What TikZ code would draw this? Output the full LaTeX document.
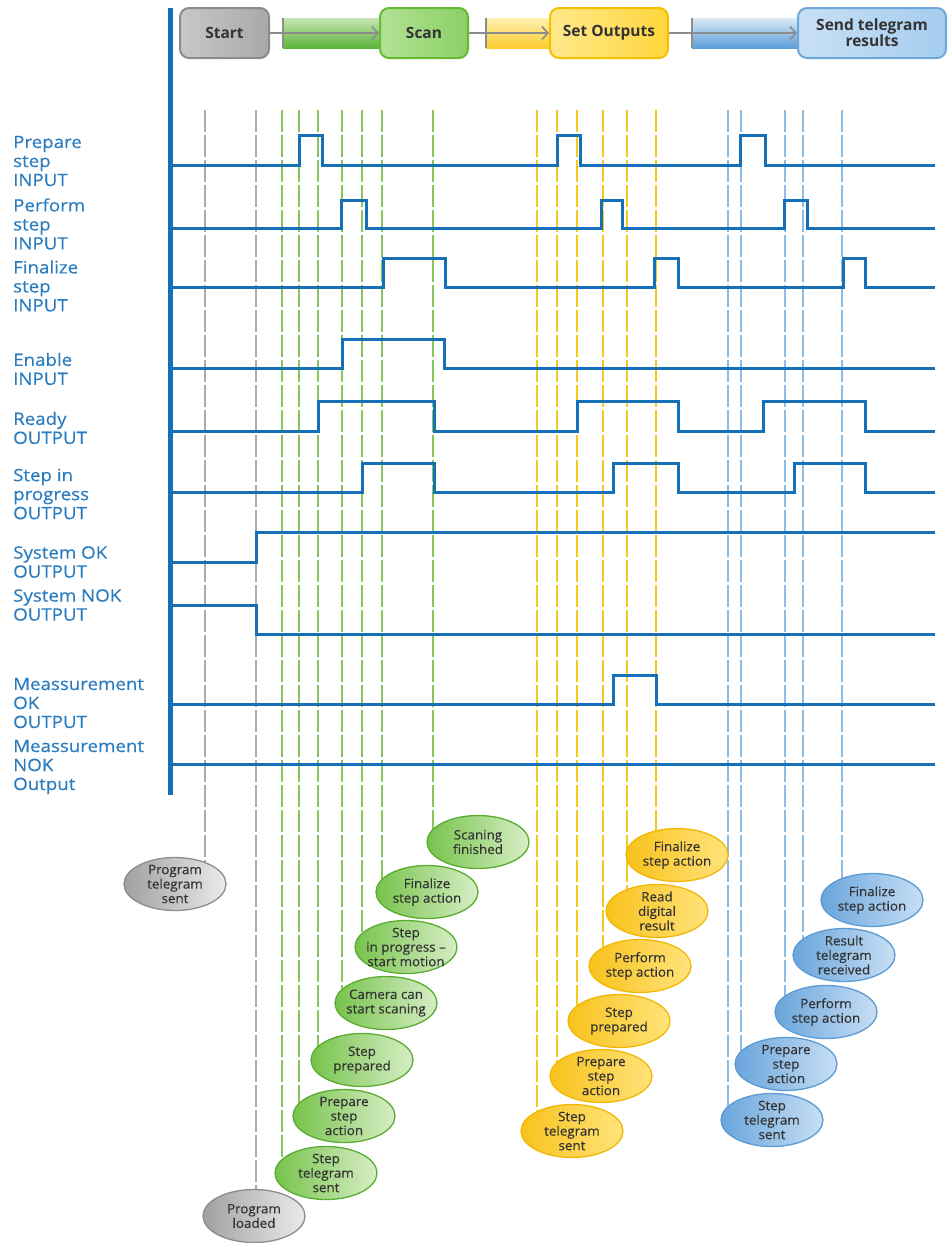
\documentclass[tikz,border=0pt]{standalone}
\usepackage{fontspec}
\setmainfont{Open Sans}
\newfontfamily\labelfamily[FakeStretch=1.1,FakeBold=0.4]{Open Sans}
\newfontfamily\eventfamily[FakeStretch=1.03,FakeBold=0.3]{Open Sans}
\usetikzlibrary{shapes.geometric,arrows.meta,backgrounds}

% palette
\definecolor{sig}{HTML}{1570B8}
\definecolor{lbl}{HTML}{2A7CC0}
\definecolor{txt}{HTML}{333333}
\definecolor{grayline}{HTML}{ABABAB}
\definecolor{greenline}{HTML}{86C65A}
\definecolor{yellowline}{HTML}{F7C81E}
\definecolor{blueline}{HTML}{8CBDE6}
\definecolor{arrowgray}{HTML}{8C8C8C}

\newcommand{\lblfont}{\labelfamily\fontsize{17}{19}\selectfont}
\newcommand{\ellfont}{\eventfamily\fontsize{13}{14.5}\selectfont}
\newcommand{\hdrfont}{\fontsize{15.5}{16}\selectfont\bfseries}

\begin{document}
\begin{tikzpicture}[x=1pt,y=-1pt,
  signal/.style={draw=sig, line width=3pt, line join=miter},
  label/.style={anchor=west, align=left, text=lbl, font=\lblfont, inner sep=0pt},
  mark line/.style={line width=1.5pt, dash pattern=on 22pt off 3pt},
  ell/.style={ellipse, minimum width=102pt, minimum height=53pt, inner xsep=-14pt, inner ysep=-6pt,
    align=center, line width=1.3pt, font=\ellfont, text=txt},
  grayell/.style={ell, draw=arrowgray, left color={rgb,255:red,160;green,160;blue,160}, right color={rgb,255:red,235;green,235;blue,235}},
  greenell/.style={ell, draw={rgb,255:red,90;green,172;blue,48}, left color={rgb,255:red,118;green,195;blue,75}, right color={rgb,255:red,215;green,238;blue,198}},
  yellowell/.style={ell, draw={rgb,255:red,242;green,183;blue,5}, left color={rgb,255:red,248;green,194;blue,28}, right color={rgb,255:red,255;green,227;blue,122}},
  blueell/.style={ell, draw={rgb,255:red,91;green,155;blue,213}, left color={rgb,255:red,105;green,165;blue,220}, right color={rgb,255:red,200;green,223;blue,244}},
  phase/.style={rounded corners=9pt, minimum height=50pt, inner sep=2pt, line width=2pt,
    align=center, font=\hdrfont, text=txt},
  flow/.style={draw=arrowgray, line width=1.8pt, -{Straight Barb[length=6pt,width=13pt,line width=1.6pt]}},
  tick/.style={draw=arrowgray, line width=2.5pt}
]
\useasboundingbox (0,0) rectangle (949,1243);

% ---------- phase header ----------
\node[phase, minimum width=89pt, draw=arrowgray,
  left color={rgb,255:red,200;green,200;blue,200}, middle color={rgb,255:red,240;green,240;blue,240},
  right color={rgb,255:red,168;green,168;blue,168}] (start) at (224.5,33) {Start};
\node[phase, minimum width=88pt, draw={rgb,255:red,102;green,187;blue,51},
  left color={rgb,255:red,178;green,225;blue,150}, right color={rgb,255:red,140;green,207;blue,100}] (scan) at (424,33) {Scan};
\node[phase, minimum width=118pt, draw={rgb,255:red,245;green,192;blue,0},
  left color={rgb,255:red,255;green,232;blue,140}, right color={rgb,255:red,255;green,214;blue,60}] (setout) at (609,33) {Set Outputs};
\node[phase, minimum width=148pt, draw={rgb,255:red,110;green,168;blue,218},
  left color={rgb,255:red,200;green,224;blue,245}, right color={rgb,255:red,165;green,205;blue,238}] (send) at (872,33) {Send telegram\\results};

\coordinate (t1) at (283,33);
\coordinate (t2) at (486,33);
\coordinate (t3) at (692,33);

\begin{scope}[on background layer]
  \shade[top color={rgb,255:red,200;green,230;blue,180}, bottom color={rgb,255:red,92;green,180;blue,58}]
    ([yshift=15pt]t1) rectangle ([yshift=-15pt]scan.west);
  \shade[top color={rgb,255:red,255;green,241;blue,180}, bottom color={rgb,255:red,252;green,205;blue,45}]
    ([yshift=15pt]t2) rectangle ([yshift=-15pt]setout.west);
  \shade[top color={rgb,255:red,218;green,233;blue,246}, bottom color={rgb,255:red,92;green,158;blue,216}]
    ([yshift=15pt]t3) rectangle ([yshift=-15pt]send.west);
\end{scope}

\draw[flow] (start.east) -- (scan.west);
\draw[flow] (scan.east) -- (setout.west);
\draw[flow] (setout.east) -- (send.west);
\draw[tick] ([yshift=15pt]t1) -- ([yshift=-15pt]t1);
\draw[tick] ([yshift=15pt]t2) -- ([yshift=-15pt]t2);
\draw[tick] ([yshift=15pt]t3) -- ([yshift=-15pt]t3);

% ---------- time axis ----------
\draw[sig, line width=5pt] (170,8) -- (170,795);

% ---------- signal names ----------
\node[label] (lprep)  at (13,161) {Prepare\\step\\INPUT};
\node[label] (lperf)  at (13,224) {Perform\\step\\INPUT};
\node[label] (lfin)   at (13,286) {Finalize\\step\\INPUT};
\node[label] (lenab)  at (13,369) {Enable\\INPUT};
\node[label] (lready) at (13,428) {Ready\\OUTPUT};
\node[label] (lprog)  at (13,494) {Step in\\progress\\OUTPUT};
\node[label] (lsok)   at (13,562) {System OK\\OUTPUT};
\node[label] (lsnok)  at (13,605) {System NOK\\OUTPUT};
\node[label] (lmok)   at (13,703) {Meassurement\\OK\\OUTPUT};
\node[label] (lmnok)  at (13,767) {Meassurement\\NOK\\Output};

% ---------- signal traces ----------
\draw[signal] (173,165) -| (299,135) -| (322,165) -| (557,135) -| (580,165) -| (740,135) -| (765,165) -- (935,165);
\draw[signal] (173,228) -| (341,200) -| (366,228) -| (601,200) -| (622,228) -| (784,200) -| (807,228) -- (935,228);
\draw[signal] (173,287) -| (383,258) -| (445,287) -| (654,258) -| (678,287) -| (843,258) -| (865,287) -- (935,287);
\draw[signal] (173,368) -| (342,339) -| (444,368) -- (935,368);
\draw[signal] (173,431) -| (318,401) -| (434,431) -| (577,401) -| (678,431) -| (763,401) -| (865,431) -- (935,431);
\draw[signal] (173,492) -| (362,463) -| (434,492) -| (613,463) -| (678,492) -| (794,463) -| (865,492) -- (935,492);
\draw[signal] (173,562) -| (256,532) -- (935,532);
\draw[signal] (173,605) -| (256,634) -- (935,634);
\draw[signal] (173,704) -| (613,675) -| (656,704) -- (935,704);
\draw[signal] (173,764) -- (935,764);

% ---------- events ----------
\node[grayell] (ptsent) at (175,884) {Program\\telegram\\sent};
\node[grayell] (ploaded) at (254,1216) {Program\\loaded};

\node[greenell] (gfin)   at (478,842) {Scaning\\finished};
\node[greenell] (gfact)  at (427,892) {Finalize\\step action};
\node[greenell] (gprog)  at (406,947) {Step\\in progress –\\start motion};
\node[greenell] (gcam)   at (386,1003) {Camera can\\start scaning};
\node[greenell] (gprep)  at (362,1060) {Step\\prepared};
\node[greenell] (gpact)  at (344,1116) {Prepare\\step\\action};
\node[greenell] (gsent)  at (326,1173) {Step\\telegram\\sent};

\node[yellowell] (yfact) at (677,855) {Finalize\\step action};
\node[yellowell] (yread) at (657,911) {Read\\digital\\result};
\node[yellowell] (yperf) at (640,966) {Perform\\step action};
\node[yellowell] (yprep) at (619,1021) {Step\\prepared};
\node[yellowell] (ypact) at (601,1076) {Prepare\\step\\action};
\node[yellowell] (ysent) at (572,1131) {Step\\telegram\\sent};

\node[blueell] (bfact) at (872,900) {Finalize\\step action};
\node[blueell] (bres)  at (844,955) {Result\\telegram\\received};
\node[blueell] (bperf) at (826,1012) {Perform\\step action};
\node[blueell] (bpact) at (786,1064) {Prepare\\step\\action};
\node[blueell] (bsent) at (772,1120) {Step\\telegram\\sent};

% ---------- event markers (behind traces and events) ----------
\foreach \x/\e in {205/ptsent, 256/ploaded}
  \coordinate (m\e) at (\x,110);
\foreach \x/\e in {282/gsent, 299/gpact, 318/gprep, 342/gcam, 362/gprog, 382/gfact, 433/gfin}
  \coordinate (m\e) at (\x,110);
\foreach \x/\e in {537/ysent, 557/ypact, 577/yprep, 603/yperf, 627/yread, 656/yfact}
  \coordinate (m\e) at (\x,110);
\foreach \x/\e in {728/bsent, 741/bpact, 785/bperf, 803/bres, 842/bfact}
  \coordinate (m\e) at (\x,110);

\begin{scope}[on background layer]
  \foreach \e in {ptsent, ploaded}
    \draw[mark line, grayline] (m\e) -- (m\e |- \e.center);
  \foreach \e in {gsent, gpact, gprep, gcam, gprog, gfact, gfin}
    \draw[mark line, greenline] (m\e) -- (m\e |- \e.center);
  \foreach \e in {ysent, ypact, yprep, yperf, yread, yfact}
    \draw[mark line, yellowline] (m\e) -- (m\e |- \e.center);
  \foreach \e in {bsent, bpact, bperf, bres, bfact}
    \draw[mark line, blueline] (m\e) -- (m\e |- \e.center);
\end{scope}
\end{tikzpicture}
\end{document}
